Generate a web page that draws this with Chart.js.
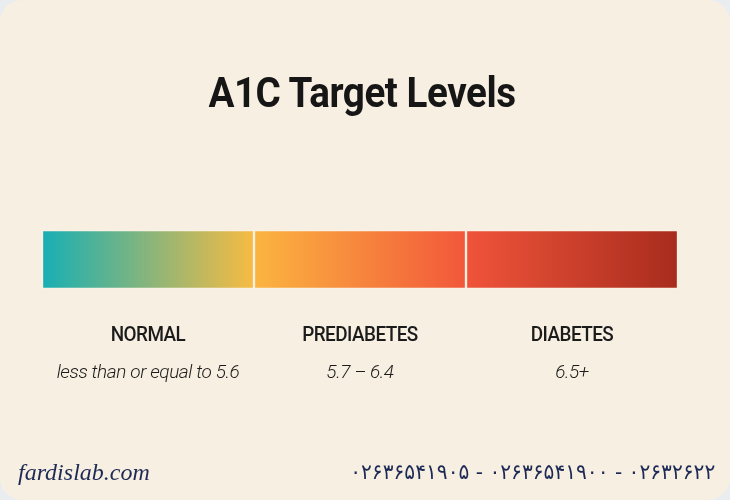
<!DOCTYPE html>
<html><head><meta charset="utf-8">
<script src="https://cdn.jsdelivr.net/npm/chart.js@4"></script>
<style>
html,body{margin:0;padding:0;background:#e9edf0;}
#card{position:absolute;left:0;top:0;width:730px;height:500px;background:#f7efe1;border-radius:22px;overflow:hidden;}
#c{position:absolute;left:0;top:0;}
.t{position:absolute;white-space:nowrap;transform:translateX(-50%) scaleX(0.92);}
#title{left:362px;top:68px;font:700 42px Roboto,sans-serif;color:#161616;letter-spacing:-0.5px;}
.cat{top:322px;font:500 21px Roboto,sans-serif;color:#1b1b1b;letter-spacing:-0.6px;transform:translateX(-50%) scaleX(0.9);}
.rng{top:360px;font:italic 300 19px Roboto,sans-serif;color:#1b1b1b;letter-spacing:-0.4px;transform:translateX(-50%);}
#url{position:absolute;left:18px;top:459px;font:italic 24px "Liberation Serif",serif;color:#1d2a55;}
#tel{position:absolute;right:15px;top:460px;font:21px "DejaVu Sans",sans-serif;color:#1d2a55;direction:ltr;unicode-bidi:bidi-override;transform-origin:right;transform:scaleX(0.96);}
</style></head>
<body><div id="card"><canvas id="c" width="730" height="500"></canvas>
<div class="t" id="title">A1C Target Levels</div>
<div id="url">fardislab.com</div>
<div id="tel">۰۲۶۳۶۵۴۱۹۰۵ - ۰۲۶۳۶۵۴۱۹۰۰ - ۰۲۶۳۲۶۲۲</div>
</div>
<script>
const categories=["NORMAL","PREDIABETES","DIABETES"];
const ranges=["less than or equal to 5.6","5.7 – 6.4","6.5+"];
const values=[1,1,1];
const gradients=[["#17afb4","#f8bb42"],["#fbb540","#f2573a"],["#f0543a","#a82c1d"]];
const centers=[148,360,572];
const card=document.getElementById('card');
categories.forEach((n,i)=>{
 const a=document.createElement('div');a.className='t cat';a.style.left=centers[i]+'px';a.textContent=n;card.appendChild(a);
 const b=document.createElement('div');b.className='t rng';b.style.left=centers[i]+'px';b.textContent=ranges[i];card.appendChild(b);
});
function grad(i){return (ctx)=>{
 const ch=ctx.chart;if(!ch.chartArea)return gradients[i][0];
 const x=ch.scales.x;let s=0;for(let k=0;k<i;k++)s+=values[k];
 const g=ch.ctx.createLinearGradient(x.getPixelForValue(s),0,x.getPixelForValue(s+values[i]),0);
 g.addColorStop(0,gradients[i][0]);g.addColorStop(1,gradients[i][1]);return g;};}
new Chart(document.getElementById('c'),{type:'bar',
 data:{labels:['A1C'],datasets:categories.map((n,i)=>({label:n,data:[values[i]],backgroundColor:grad(i),borderColor:'#f8f1e4',borderWidth:1.5,borderSkipped:false}))},
 options:{indexAxis:'y',responsive:false,animation:false,
  layout:{padding:{left:42,right:52,top:230,bottom:211}},
  datasets:{bar:{barPercentage:1,categoryPercentage:1}},
  scales:{x:{stacked:true,min:0,max:3,display:false},y:{stacked:true,display:false}},
  plugins:{legend:{display:false},tooltip:{enabled:false}}}});
</script></body></html>
